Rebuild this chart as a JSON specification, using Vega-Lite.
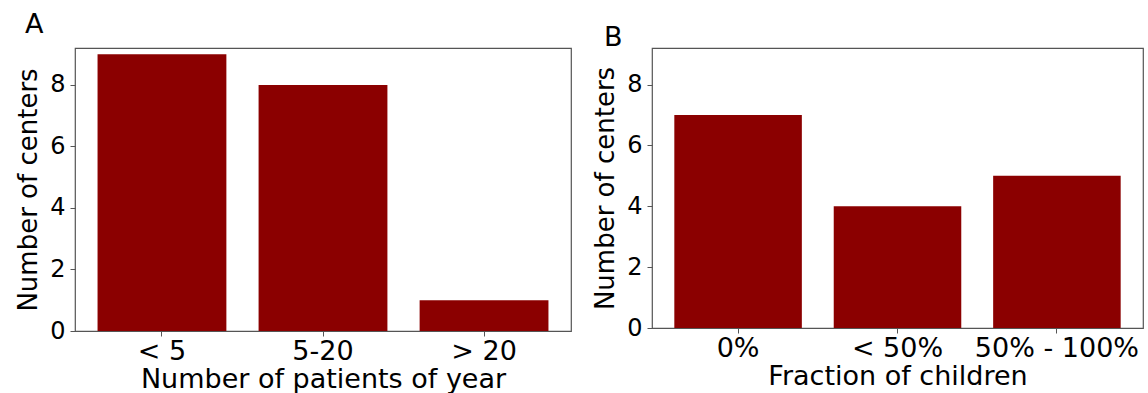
{
  "$schema": "https://vega.github.io/schema/vega-lite/v6.json",
  "padding": {"left": 15, "top": 10, "right": 0, "bottom": 0},
  "autosize": {"type": "pad"},
  "spacing": 20,
  "config": {
    "font": "DejaVu Sans",
    "view": {"stroke": "#555555", "strokeWidth": 1.2},
    "axis": {"grid": false, "domain": false, "tickColor": "#555555", "tickSize": 5, "labelColor": "#000000", "titleColor": "#000000", "titleFontWeight": "normal", "labelFont": "DejaVu Sans", "titleFont": "DejaVu Sans"},
    "axisX": {"labelFontSize": 27, "titleFontSize": 27, "labelPadding": 2, "titlePadding": 2, "labelAngle": 0},
    "axisY": {"labelFontSize": 24, "titleFontSize": 26, "labelPadding": 5, "titlePadding": 8},
    "title": {"anchor": "start", "frame": "group", "fontSize": 27, "fontWeight": "normal", "color": "#000000"}
  },
  "hconcat": [
    {
      "title": {"text": "A", "dx": -50, "offset": 9},
      "width": 496,
      "height": 283,
      "data": {"values": [
        {"category": "< 5", "centers": 9},
        {"category": "5-20", "centers": 8},
        {"category": "> 20", "centers": 1}
      ]},
      "mark": {"type": "bar", "color": "#8b0000"},
      "encoding": {
        "x": {"field": "category", "type": "nominal", "sort": null, "title": "Number of patients of year", "scale": {"paddingInner": 0.2, "paddingOuter": 0.14}},
        "y": {"field": "centers", "type": "quantitative", "title": "Number of centers", "scale": {"domain": [0, 9.2], "nice": false}, "axis": {"values": [0, 2, 4, 6, 8]}}
      }
    },
    {
      "title": {"text": "B", "dx": -48, "offset": 0, "dy": 4},
      "width": 491,
      "height": 280,
      "data": {"values": [
        {"category": "0%", "centers": 7},
        {"category": "< 50%", "centers": 4},
        {"category": "50% - 100%", "centers": 5}
      ]},
      "mark": {"type": "bar", "color": "#8b0000"},
      "encoding": {
        "x": {"field": "category", "type": "nominal", "sort": null, "title": "Fraction of children", "scale": {"paddingInner": 0.2, "paddingOuter": 0.14}},
        "y": {"field": "centers", "type": "quantitative", "title": "Number of centers", "scale": {"domain": [0, 9.2], "nice": false}, "axis": {"values": [0, 2, 4, 6, 8]}}
      }
    }
  ]
}
